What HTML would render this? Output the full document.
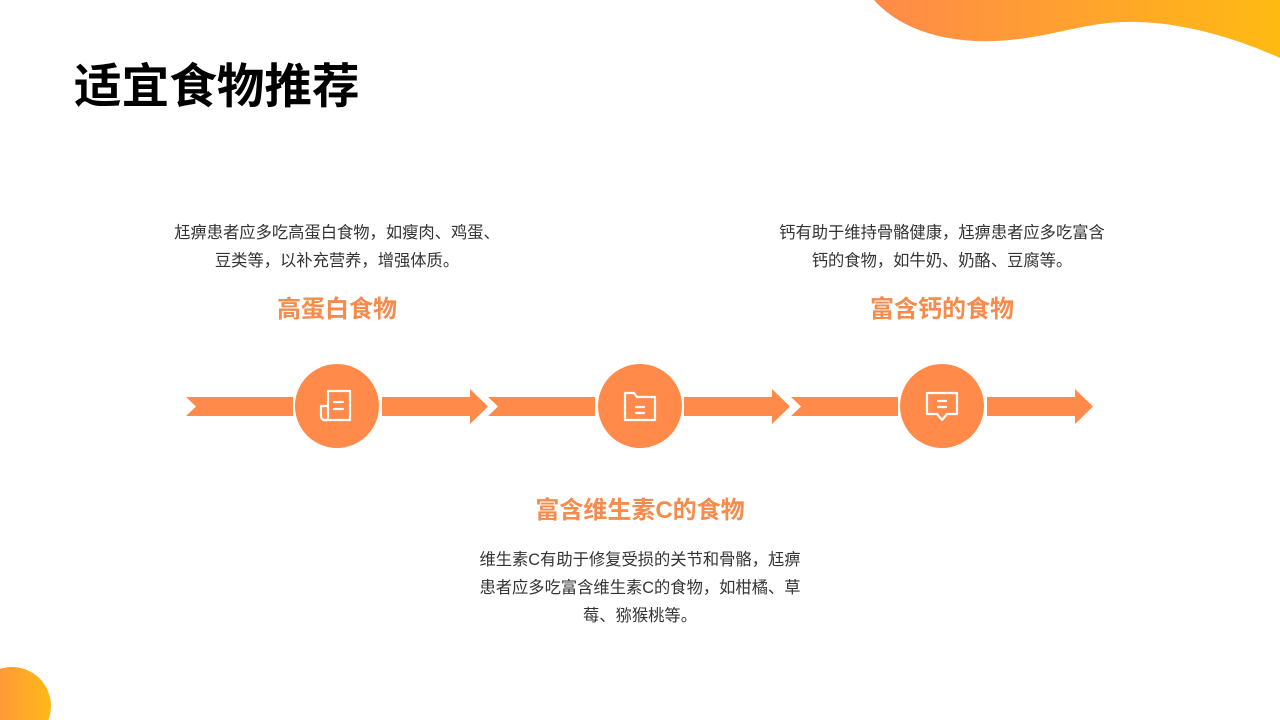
<!DOCTYPE html>
<html><head><meta charset="utf-8"><style>
html,body{margin:0;padding:0;background:#fff}
body{width:1280px;height:720px;position:relative;overflow:hidden;font-family:"Liberation Sans","Noto Sans CJK SC",sans-serif}
.t{position:absolute;text-align:center;color:#333;font-size:16.3px;line-height:28px}
.h{position:absolute;text-align:center;color:#F68B4B;font-size:24px;font-weight:bold;line-height:30px}
</style></head><body>
<svg width="1280" height="720" style="position:absolute;left:0;top:0">
<defs>
<linearGradient id="g" x1="0" x2="1" y1="0" y2="0"><stop offset="0" stop-color="#FF8A4A"/><stop offset="1" stop-color="#FFBA12"/></linearGradient>
<linearGradient id="g2" x1="0" x2="1" y1="0" y2="0"><stop offset="0" stop-color="#FF8A4A"/><stop offset="1" stop-color="#FFB818"/></linearGradient>
</defs>
<path d="M874 0 C905 35 960 45 1010 40 C1060 35 1090 20 1140 22 C1190 24 1240 40 1280 58 L1280 0 Z" fill="url(#g)"/>
<circle cx="12" cy="706" r="39" fill="url(#g2)"/>
<g fill="#FF8A4A">
<g id="seg">
<path d="M186 397 L293 397 L293 416 L186 416 L196 406.5 Z"/>
<path d="M382 397 L470 397 L470 389 L488 406.5 L470 424 L470 416 L382 416 Z"/>
</g>
<use href="#seg" x="302"/>
<use href="#seg" x="605"/>
<circle cx="337" cy="406" r="42"/>
<circle cx="640" cy="406" r="42"/>
<circle cx="942" cy="406" r="42"/>
</g>
<g fill="none" stroke="#fff" stroke-width="2.2" stroke-linejoin="round" stroke-linecap="round">
<path d="M328 391 L350 391 L350 420 L325 420 C322 420 321 418 321 416 L321 406 L328 406 M328 391 L328 418 C328 420 326 421 324 420"/>
<path d="M334 402 L343 402 M334 409 L343 409"/>
<path d="M625 393 L634 393 L637 397 L655 397 L655 420 L625 420 Z"/>
<path d="M636 407 L644 407 M636 413 L644 413"/>
<path d="M927 393 L957 393 L957 414 L947 414 L942 420 L937 414 L927 414 Z"/>
<path d="M938 401 L946 401 M938 407 L946 407"/>
</g>
</svg>
<div style="position:absolute;left:74px;top:60px;font-size:47.6px;font-weight:bold;color:#000;line-height:56px">适宜食物推荐</div>
<div class="t" style="left:137px;width:400px;top:219px">尪痹患者应多吃高蛋白食物，如瘦肉、鸡蛋、<br>豆类等，以补充营养，增强体质。</div>
<div class="h" style="left:137px;width:400px;top:295px">高蛋白食物</div>
<div class="t" style="left:742px;width:400px;top:219px">钙有助于维持骨骼健康，尪痹患者应多吃富含<br>钙的食物，如牛奶、奶酪、豆腐等。</div>
<div class="h" style="left:742px;width:400px;top:295px">富含钙的食物</div>
<div class="h" style="left:440px;width:400px;top:496px">富含维生素C的食物</div>
<div class="t" style="left:440px;width:400px;top:546px">维生素C有助于修复受损的关节和骨骼，尪痹<br>患者应多吃富含维生素C的食物，如柑橘、草<br>莓、猕猴桃等。</div>
</body></html>
